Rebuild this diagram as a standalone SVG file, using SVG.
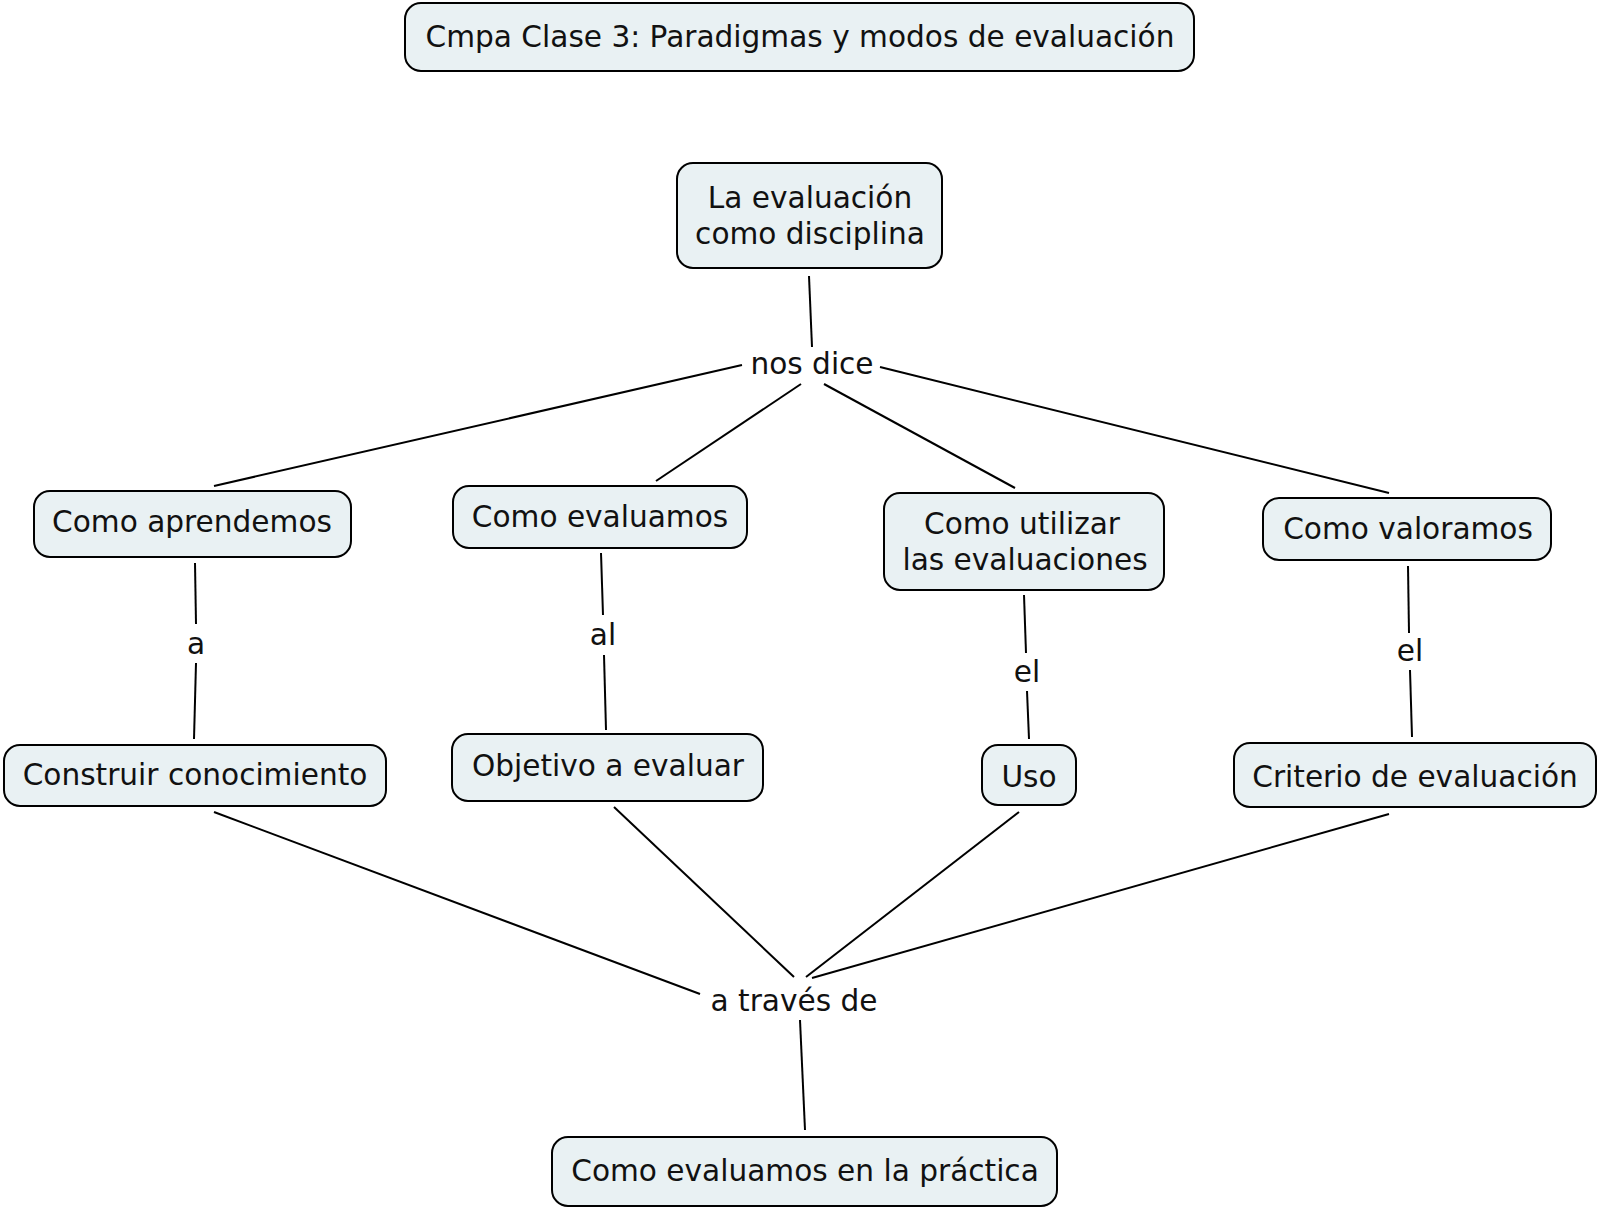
<svg xmlns="http://www.w3.org/2000/svg" width="1600" height="1211" viewBox="0 0 1600 1211">
<style>
.n rect{fill:#e9f1f3;stroke:#000;stroke-width:2}
text{font-family:"DejaVu Sans","Liberation Sans",sans-serif;font-size:29.6px;fill:#111;text-anchor:middle;dominant-baseline:central}
#connectors line{stroke:#000;stroke-width:2}
</style>
<rect width="1600" height="1211" fill="#fff"/>
<g id="connectors">
<line x1="809" y1="276" x2="812" y2="347"/>
<line x1="742" y1="365" x2="214" y2="486"/>
<line x1="801" y1="384" x2="656" y2="481"/>
<line x1="824" y1="384" x2="1015" y2="488"/>
<line x1="880" y1="367" x2="1389" y2="493"/>
<line x1="195" y1="563" x2="196" y2="624"/>
<line x1="196" y1="663" x2="194" y2="739"/>
<line x1="601" y1="553" x2="603" y2="615"/>
<line x1="604" y1="655" x2="606" y2="730"/>
<line x1="1024" y1="595" x2="1026" y2="653"/>
<line x1="1027" y1="691" x2="1029" y2="739"/>
<line x1="1408" y1="566" x2="1409" y2="633"/>
<line x1="1410" y1="670" x2="1412" y2="737"/>
<line x1="214" y1="812" x2="700" y2="994"/>
<line x1="614" y1="807" x2="794" y2="977"/>
<line x1="1019" y1="812" x2="806" y2="977"/>
<line x1="1389" y1="814" x2="812" y2="978"/>
<line x1="800" y1="1020" x2="805" y2="1130"/>
</g>
<g id="title" class="n"><rect x="405" y="3" width="789" height="68" rx="16"/><text x="800" y="37">Cmpa Clase 3: Paradigmas y modos de evaluación</text></g>
<g id="disciplina" class="n"><rect x="677" y="163" width="265" height="105" rx="16"/><text x="810" y="198">La evaluación</text><text x="810" y="234">como disciplina</text></g>
<g id="lbl-nosdice"><text x="812" y="364">nos dice</text></g>
<g id="aprendemos" class="n"><rect x="34" y="491" width="317" height="66" rx="16"/><text x="192" y="522">Como aprendemos</text></g>
<g id="evaluamos" class="n"><rect x="453" y="486" width="294" height="62" rx="16"/><text x="600" y="517">Como evaluamos</text></g>
<g id="utilizar" class="n"><rect x="884" y="493" width="280" height="97" rx="16"/><text x="1022" y="524">Como utilizar</text><text x="1025" y="560">las evaluaciones</text></g>
<g id="valoramos" class="n"><rect x="1263" y="498" width="288" height="62" rx="16"/><text x="1408" y="529">Como valoramos</text></g>
<g id="lbl-a"><text x="196" y="644">a</text></g>
<g id="lbl-al"><text x="603" y="635">al</text></g>
<g id="lbl-el1"><text x="1027" y="672">el</text></g>
<g id="lbl-el2"><text x="1410" y="651">el</text></g>
<g id="construir" class="n"><rect x="4" y="745" width="382" height="61" rx="16"/><text x="195" y="775">Construir conocimiento</text></g>
<g id="objetivo" class="n"><rect x="452" y="734" width="311" height="67" rx="16"/><text x="608" y="766">Objetivo a evaluar</text></g>
<g id="uso" class="n"><rect x="982" y="745" width="94" height="60" rx="16"/><text x="1029" y="777">Uso</text></g>
<g id="criterio" class="n"><rect x="1234" y="743" width="362" height="64" rx="16"/><text x="1415" y="777">Criterio de evaluación</text></g>
<g id="lbl-traves"><text x="794" y="1001">a través de</text></g>
<g id="practica" class="n"><rect x="552" y="1137" width="505" height="69" rx="16"/><text x="805" y="1171">Como evaluamos en la práctica</text></g>
</svg>
